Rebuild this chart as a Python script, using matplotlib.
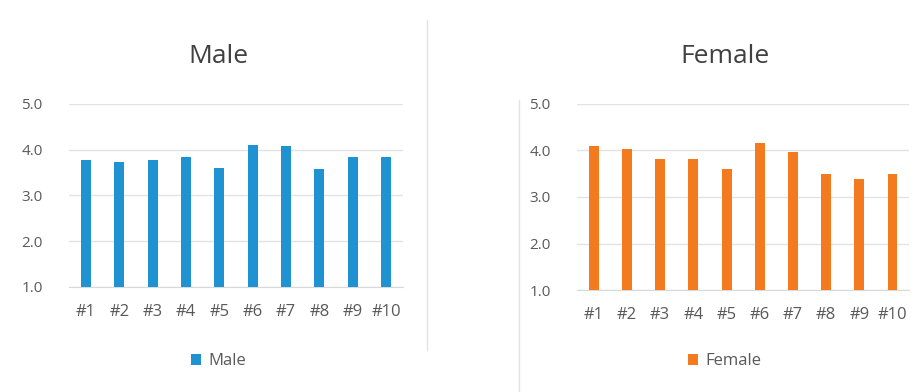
import matplotlib
matplotlib.use("Agg")
import matplotlib.pyplot as plt
from matplotlib.lines import Line2D
from matplotlib.patches import Patch

plt.rcParams['font.family'] = ['Open Sans', 'DejaVu Sans']

categories = ["#1", "#2", "#3", "#4", "#5", "#6", "#7", "#8", "#9", "#10"]
male_values = [3.78, 3.73, 3.78, 3.83, 3.60, 4.11, 4.07, 3.57, 3.84, 3.84]
female_values = [4.10, 4.03, 3.81, 3.81, 3.61, 4.15, 3.96, 3.50, 3.38, 3.50]
y_ticks = [1.0, 2.0, 3.0, 4.0, 5.0]
y_tick_labels = ["1.0", "2.0", "3.0", "4.0", "5.0"]

male_color = "#1f93d2"
female_color = "#f47a1f"
text_color = "#595959"

fig = plt.figure(figsize=(9.22, 3.92), dpi=100)
fig.patch.set_facecolor("white")

panels = [
    ("Male", male_values, male_color, [0.075, 0.268, 0.362, 0.467], 0.237),
    ("Female", female_values, female_color, [0.626, 0.260, 0.360, 0.475], 0.786),
]

for title, vals, color, rect, cx in panels:
    ax = fig.add_axes(rect)
    x = list(range(len(categories)))
    ax.bar(x, vals, width=0.3, color=color, zorder=3)
    ax.set_ylim(1.0, 5.0)
    ax.set_xlim(-0.5, len(categories) - 0.5)
    ax.set_yticks(y_ticks)
    ax.set_yticklabels(y_tick_labels)
    ax.set_xticks(x)
    ax.set_xticklabels(categories)
    ax.tick_params(axis='y', length=0, pad=19, labelsize=11, labelcolor=text_color)
    ax.tick_params(axis='x', length=0, pad=12, labelsize=12, labelcolor=text_color)
    ax.grid(axis='y', color="#e3e3e3", linewidth=1, zorder=0)
    for s in ["left", "right", "top"]:
        ax.spines[s].set_visible(False)
    ax.spines["bottom"].set_color("#d9d9d9")
    fig.text(cx, 0.855, title, ha="center", va="center", fontsize=19, color="#404040")
    fig.legend(handles=[Patch(facecolor=color, label=title)], loc="center",
               bbox_to_anchor=(cx, 0.078), frameon=False, fontsize=12,
               handlelength=0.6, handleheight=0.6, handletextpad=0.4,
               labelcolor=text_color)

# panel borders
fig.add_artist(Line2D([427/922, 427/922], [1 - 20/392, 1 - 350/392],
                      transform=fig.transFigure, color="#e3e3e3", linewidth=1))
fig.add_artist(Line2D([519/922, 519/922], [1 - 100/392, 0],
                      transform=fig.transFigure, color="#e3e3e3", linewidth=1))

fig.savefig("out.png", dpi=100, facecolor="white")
